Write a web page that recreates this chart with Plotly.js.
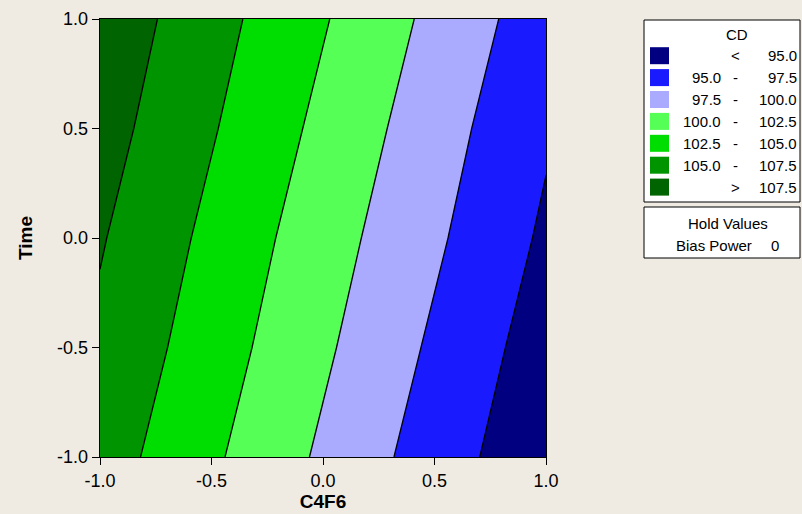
<!DOCTYPE html>
<html>
<head>
<meta charset="utf-8">
<script src="https://cdn.plot.ly/plotly-3.0.1.min.js"></script>
<style>html,body{margin:0;padding:0;background:#EFEBE2;}#chart{width:802px;height:514px;}</style>
</head>
<body>
<div id="chart"></div>
<script>
// Grid
var xVals = [-1.0, -0.5, 0.0, 0.5, 1.0];          // C4F6
var yVals = [-1.0, -0.5, 0.0, 0.5, 1.0];          // Time
var cdValues = [
  [106.2, 102.9, 99.6, 96.3, 93.1],   // Time = -1.0
  [107.0, 103.7, 100.4, 97.1, 93.8],  // Time = -0.5
  [107.7, 104.4, 101.1, 97.9, 94.6],  // Time =  0.0
  [108.5, 105.2, 101.9, 98.6, 95.3],  // Time =  0.5
  [109.2, 105.9, 102.7, 99.4, 96.1]   // Time =  1.0
];
var tickVals = [-1.0, -0.5, 0.0, 0.5, 1.0];
var tickText = ['-1.0', '-0.5', '0.0', '0.5', '1.0'];
var levels = [95.0, 97.5, 100.0, 102.5, 105.0, 107.5];
var bandColors = ['#000080', '#1A1AFF', '#AAAAFF', '#55FF55', '#00DD00', '#009400', '#006400'];
var legendLeft = ['', '95.0', '97.5', '100.0', '102.5', '105.0', ''];
var legendMid = ['<', '-', '-', '-', '-', '-', '>'];
var legendRight = ['95.0', '97.5', '100.0', '102.5', '105.0', '107.5', '107.5'];
var holdName = 'Bias Power';
var holdValue = '0';

var W = 802, H = 514;
var mL = 100, mR = 256, mT = 19, mB = 57;
var pw = W - mL - mR, ph = H - mT - mB;
function px(x) { return (x - mL) / pw; }
function py(y) { return (H - mB - y) / ph; }

var colorscale = bandColors.map(function (c, i) { return [i / (bandColors.length - 1), c]; });

var trace = {
  type: 'contour',
  x: xVals, y: yVals, z: cdValues,
  colorscale: colorscale,
  showscale: false,
  autocontour: false,
  contours: {start: levels[0], end: levels[levels.length - 1], size: levels[1] - levels[0], coloring: 'fill', showlines: true},
  line: {color: '#000000', width: 1.3, smoothing: 0},
  hoverinfo: 'skip'
};

var font = {family: 'Liberation Sans, Arial, sans-serif', color: '#000000'};
var lf = 15;
var shapes = [], annotations = [];
// Legend box
shapes.push({type: 'rect', xref: 'paper', yref: 'paper', x0: px(644), x1: px(800), y0: py(202), y1: py(20), line: {color: '#000', width: 1}, fillcolor: '#FFFFFF', layer: 'above'});
shapes.push({type: 'rect', xref: 'paper', yref: 'paper', x0: px(644), x1: px(800), y0: py(258), y1: py(207), line: {color: '#000', width: 1}, fillcolor: '#FFFFFF', layer: 'above'});
annotations.push({xref: 'paper', yref: 'paper', x: px(737), y: py(34), text: 'CD', showarrow: false, xanchor: 'center', yanchor: 'middle', font: Object.assign({size: lf}, font)});
var rowStart = 55.7, rowStep = 21.9;
for (var i = 0; i < bandColors.length; i++) {
  var yc = rowStart + i * rowStep;
  shapes.push({type: 'rect', xref: 'paper', yref: 'paper', x0: px(650), x1: px(669), y0: py(yc + 8.5), y1: py(yc - 8.5), line: {width: 0}, fillcolor: bandColors[i], layer: 'above'});
  if (legendLeft[i]) annotations.push({xref: 'paper', yref: 'paper', x: px(723), y: py(yc), text: legendLeft[i], showarrow: false, xanchor: 'right', yanchor: 'middle', font: Object.assign({size: lf}, font)});
  annotations.push({xref: 'paper', yref: 'paper', x: px(735), y: py(yc), text: legendMid[i], showarrow: false, xanchor: 'center', yanchor: 'middle', font: Object.assign({size: lf}, font)});
  annotations.push({xref: 'paper', yref: 'paper', x: px(799), y: py(yc), text: legendRight[i], showarrow: false, xanchor: 'right', yanchor: 'middle', font: Object.assign({size: lf}, font)});
}
annotations.push({xref: 'paper', yref: 'paper', x: px(728), y: py(223), text: 'Hold Values', showarrow: false, xanchor: 'center', yanchor: 'middle', font: Object.assign({size: lf}, font)});
annotations.push({xref: 'paper', yref: 'paper', x: px(674), y: py(245.5), text: holdName, showarrow: false, xanchor: 'left', yanchor: 'middle', font: Object.assign({size: lf}, font)});
annotations.push({xref: 'paper', yref: 'paper', x: px(775), y: py(245.5), text: holdValue, showarrow: false, xanchor: 'center', yanchor: 'middle', font: Object.assign({size: lf}, font)});

var axisCommon = {
  range: [-1, 1], tickvals: tickVals, ticktext: tickText,
  ticks: 'outside', ticklen: 7, tickcolor: '#000', tickwidth: 1,
  showline: true, linecolor: '#000', linewidth: 1.3, mirror: true,
  showgrid: false, zeroline: false,
  tickfont: Object.assign({size: 18}, font)
};
var layout = {
  width: W, height: H,
  margin: {l: mL, r: mR, t: mT, b: mB},
  paper_bgcolor: '#EFEBE2', plot_bgcolor: '#EFEBE2',
  showlegend: false,
  xaxis: Object.assign({}, axisCommon, {title: {text: '<b>C4F6</b>', font: Object.assign({size: 19}, font), standoff: 3}}),
  yaxis: Object.assign({}, axisCommon, {title: {text: '<b>Time</b>', font: Object.assign({size: 19}, font), standoff: 19}}),
  shapes: shapes,
  annotations: annotations
};
Plotly.newPlot('chart', [trace], layout, {staticPlot: true, displayModeBar: false});
</script>
</body>
</html>
